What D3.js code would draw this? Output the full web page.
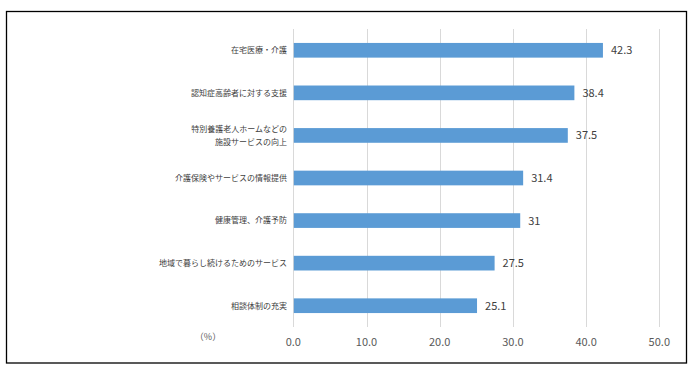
<!DOCTYPE html>
<html>
<head>
<meta charset="utf-8">
<script src="https://cdn.jsdelivr.net/npm/d3@7"></script>
<style>
  body { margin: 0; background: #fff; }
  text { font-family: "Noto Sans CJK JP", "Noto Sans", sans-serif; }
</style>
</head>
<body>
<script>
// categories (top to bottom) and their percentages
var categories = [
  ['在宅医療・介護'],
  ['認知症高齢者に対する支援'],
  ['特別養護老人ホームなどの', '施設サービスの向上'],
  ['介護保険やサービスの情報提供'],
  ['健康管理、介護予防'],
  ['地域で暮らし続けるためのサービス'],
  ['相談体制の充実']
];
var values = [42.3, 38.4, 37.5, 31.4, 31, 27.5, 25.1];
var ticks = [0, 10, 20, 30, 40, 50];
var unitLabel = '（%）';

var width = 698, height = 370;
var plot = { left: 293.3, right: 659.3, top: 29, bottom: 327 };

var svg = d3.select('body').append('svg')
  .attr('width', width)
  .attr('height', height);

// outer frame
svg.append('rect')
  .attr('x', 6.5).attr('y', 11.5)
  .attr('width', 680).attr('height', 351.5)
  .attr('fill', 'none')
  .attr('stroke', '#000')
  .attr('stroke-width', 1.3);

var x = d3.scaleLinear().domain([0, 50]).range([plot.left, plot.right]);
var y = d3.scaleBand()
  .domain(d3.range(values.length))
  .range([plot.top, plot.bottom])
  .padding(0);

var barH = y.bandwidth() * 0.345;

// gridlines
svg.selectAll('.grid').data(ticks).enter().append('line')
  .attr('class', 'grid')
  .attr('x1', function(d) { return Math.round(x(d)) + 0.5; })
  .attr('x2', function(d) { return Math.round(x(d)) + 0.5; })
  .attr('y1', plot.top)
  .attr('y2', plot.bottom)
  .attr('stroke', '#d9d9d9')
  .attr('stroke-width', 1);

// bars
svg.selectAll('.bar').data(values).enter().append('rect')
  .attr('class', 'bar')
  .attr('x', x(0) + 0.5)
  .attr('y', function(d, i) { return y(i) + y.bandwidth() / 2 - barH / 2; })
  .attr('width', function(d) { return x(d) - x(0) - 0.5; })
  .attr('height', barH)
  .attr('fill', '#5b9bd5');

// value labels
svg.selectAll('.val').data(values).enter().append('text')
  .attr('class', 'val')
  .attr('x', function(d) { return x(d) + 8; })
  .attr('y', function(d, i) { return y(i) + y.bandwidth() / 2; })
  .attr('dy', '0.36em')
  .attr('font-size', 11)
  .attr('fill', '#404040')
  .text(function(d) { return d; });

// category labels
var cat = svg.selectAll('.cat').data(categories).enter().append('text')
  .attr('class', 'cat')
  .attr('text-anchor', 'end')
  .attr('font-size', 8)
  .attr('fill', '#404040');

cat.selectAll('tspan').data(function(d, i) {
    return d.map(function(s, j) { return { s: s, j: j, n: d.length, i: i }; });
  })
  .enter().append('tspan')
  .attr('x', 287)
  .attr('y', function(d) {
    var c = y(d.i) + y.bandwidth() / 2;
    return c + (d.j - (d.n - 1) / 2) * 12.7;
  })
  .attr('dy', '0.36em')
  .text(function(d) { return d.s; });

// x axis tick labels
svg.selectAll('.tick').data(ticks).enter().append('text')
  .attr('class', 'tick')
  .attr('x', function(d) { return x(d); })
  .attr('y', 342)
  .attr('dy', '0.36em')
  .attr('text-anchor', 'middle')
  .attr('font-size', 11)
  .attr('fill', '#595959')
  .text(function(d) { return d.toFixed(1); });

svg.append('text')
  .attr('x', 208)
  .attr('y', 337)
  .attr('dy', '0.36em')
  .attr('text-anchor', 'middle')
  .attr('font-size', 9)
  .attr('fill', '#595959')
  .text(unitLabel);
</script>
</body>
</html>
